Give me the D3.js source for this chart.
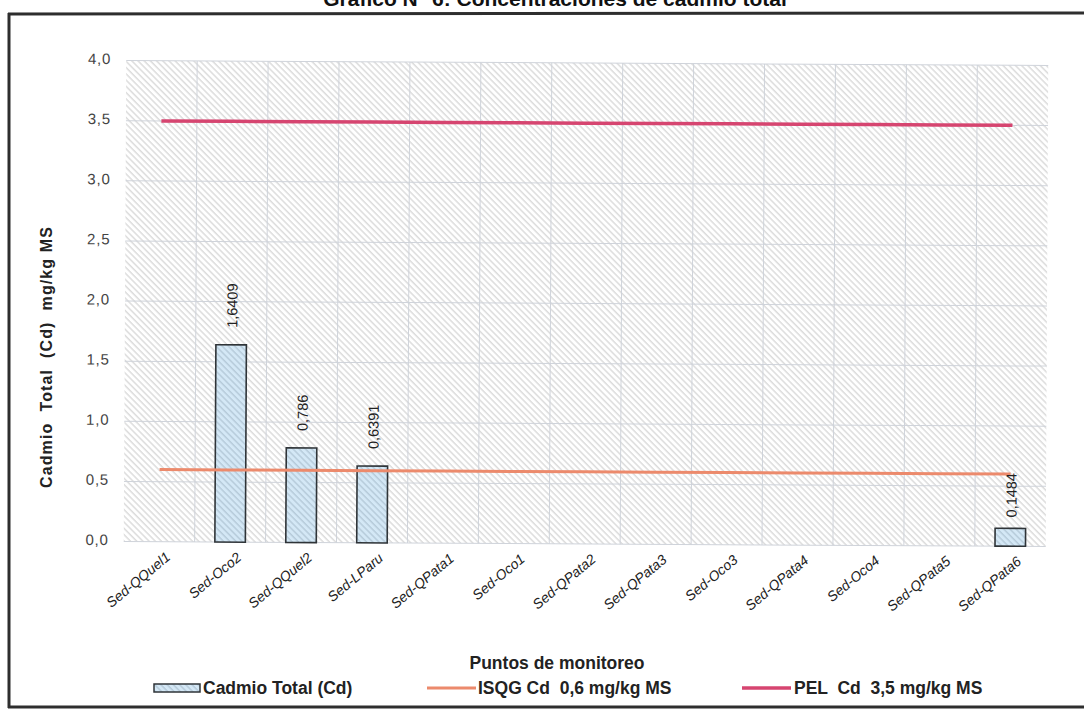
<!DOCTYPE html>
<html>
<head>
<meta charset="utf-8">
<script src="https://cdn.jsdelivr.net/npm/d3@7/dist/d3.min.js"></script>
<style>
  html, body { margin: 0; padding: 0; background: #ffffff; }
  svg { display: block; font-family: "Liberation Sans", Arial, sans-serif; }
</style>
</head>
<body>
<svg id="chart" width="1084" height="711"></svg>
<script>
// Sampling points (sediment stations)
const categories = ["Sed-QQuel1", "Sed-Oco2", "Sed-QQuel2", "Sed-LParu", "Sed-QPata1", "Sed-Oco1",
  "Sed-QPata2", "Sed-QPata3", "Sed-Oco3", "Sed-QPata4", "Sed-Oco4", "Sed-QPata5", "Sed-QPata6"];

// Total cadmium measured at each point (mg/kg MS); null = no bar
const cadmioValues = [null, 1.6409, 0.786, 0.6391, null, null, null, null, null, null, null, null, 0.1484];
const cadmioLabels = [null, "1,6409", "0,786", "0,6391", null, null, null, null, null, null, null, null, "0,1484"];

// Sediment quality guidelines for Cd
const isqgValues = [0.6, 0.6, 0.6, 0.6, 0.6, 0.6, 0.6, 0.6, 0.6, 0.6, 0.6, 0.6, 0.6];
const pelValues = [3.5, 3.5, 3.5, 3.5, 3.5, 3.5, 3.5, 3.5, 3.5, 3.5, 3.5, 3.5, 3.5];

const yTicks = [0, 0.5, 1.0, 1.5, 2.0, 2.5, 3.0, 3.5, 4.0];

const titleText = "Gráfico N° 6: Concentraciones de cadmio total";
const yTitle = "Cadmio  Total  (Cd)  mg/kg MS";
const xTitle = "Puntos de monitoreo";
const legendNames = ["Cadmio Total (Cd)", "ISQG Cd  0,6 mg/kg MS", "PEL  Cd  3,5 mg/kg MS"];

const svg = d3.select("#chart");
const defs = svg.append("defs");

// diagonal hatch for the plot background
const bgPat = defs.append("pattern")
  .attr("id", "bgHatch").attr("patternUnits", "userSpaceOnUse")
  .attr("width", 4.4).attr("height", 4.4)
  .attr("patternTransform", "rotate(45)");
bgPat.append("rect").attr("width", 4.4).attr("height", 4.4).attr("fill", "#ffffff");
bgPat.append("rect").attr("width", 4.4).attr("height", 1.5).attr("fill", "#dcdcdc");

// hatch for the bars (light blue with darker stripes)
const barPat = defs.append("pattern")
  .attr("id", "barHatch").attr("patternUnits", "userSpaceOnUse")
  .attr("width", 4.4).attr("height", 4.4)
  .attr("patternTransform", "rotate(45)");
barPat.append("rect").attr("width", 4.4).attr("height", 4.4).attr("fill", "#d4e8f6");
barPat.append("rect").attr("width", 4.4).attr("height", 1.5).attr("fill", "#b6cbda");

// Title (runs off the top of the page)
svg.append("text")
  .attr("x", 555).attr("y", 6)
  .attr("text-anchor", "middle")
  .attr("font-size", 21).attr("font-weight", "bold").attr("fill", "#111")
  .text(titleText);

// Outer frame
const frame = svg.append("g").attr("fill", "none").attr("stroke", "#2e2e2e").attr("stroke-width", 3);
frame.append("line").attr("x1", 8).attr("y1", 14).attr("x2", 1084).attr("y2", 13);
frame.append("line").attr("x1", 9).attr("y1", 13).attr("x2", 9).attr("y2", 708);
frame.append("line").attr("x1", 8).attr("y1", 707).attr("x2", 1084).attr("y2", 707);

const plot = { left: 125, right: 1047, top: 63, bottom: 544 };

const x = d3.scaleBand().domain(categories).range([plot.left, plot.right]);
const y = d3.scaleLinear().domain([0, 4]).range([plot.bottom, plot.top]);
const bw = x.bandwidth();
const barW = bw * 0.43;

const g = svg.append("g").attr("transform", "rotate(0.3, 586, 300)");

// plot background
g.append("rect")
  .attr("x", plot.left).attr("y", plot.top)
  .attr("width", plot.right - plot.left).attr("height", plot.bottom - plot.top)
  .attr("fill", "url(#bgHatch)");

// gridlines
g.append("g").selectAll("line.h").data(yTicks).join("line")
  .attr("x1", plot.left).attr("x2", plot.right)
  .attr("y1", d => y(d)).attr("y2", d => y(d))
  .attr("stroke", "#cfd3da").attr("stroke-width", 1);
g.append("g").selectAll("line.v").data(categories.slice(1)).join("line")
  .attr("x1", d => x(d)).attr("x2", d => x(d))
  .attr("y1", plot.top).attr("y2", plot.bottom)
  .attr("stroke", "#cfd3da").attr("stroke-width", 1);

// Y axis
const yAxis = g.append("g")
  .attr("transform", `translate(${plot.left},0)`)
  .call(d3.axisLeft(y).tickValues(yTicks).tickSize(0).tickPadding(15)
    .tickFormat(d => d.toFixed(1).replace(".", ",")));
yAxis.select(".domain").remove();
yAxis.selectAll("text").attr("font-size", 15).attr("fill", "#444")
  .attr("font-family", "'Liberation Sans', Arial, sans-serif")
  .attr("letter-spacing", 0.8).attr("dy", "0.2em");

// X axis with slanted labels
const xAxis = g.append("g")
  .attr("transform", `translate(0,${plot.bottom})`)
  .call(d3.axisBottom(x).tickSize(0).tickPadding(0));
xAxis.select(".domain").remove();
xAxis.selectAll("text")
  .attr("font-size", 14).attr("fill", "#222")
  .attr("font-style", "italic")
  .attr("font-family", "'Liberation Sans', Arial, sans-serif")
  .attr("text-anchor", "end")
  .attr("y", 0).attr("dy", "0.35em")
  .attr("transform", "translate(9,13) rotate(-40)");

// Bars
const barData = categories.map((c, i) => ({ c, v: cadmioValues[i], label: cadmioLabels[i] }))
  .filter(d => d.v !== null);
g.append("g").selectAll("rect").data(barData).join("rect")
  .attr("x", d => x(d.c) + (bw - barW) / 2)
  .attr("y", d => y(d.v))
  .attr("width", barW)
  .attr("height", d => y(0) - y(d.v))
  .attr("fill", "url(#barHatch)")
  .attr("stroke", "#2f3438").attr("stroke-width", 1.6);

// Guideline series
const line = d3.line()
  .x((d, i) => x(categories[i]) + bw / 2)
  .y(d => y(d));
g.append("path").datum(isqgValues).attr("d", line)
  .attr("fill", "none").attr("stroke", "#ec8a6c").attr("stroke-width", 3);
g.append("path").datum(pelValues).attr("d", line)
  .attr("fill", "none").attr("stroke", "#d64570").attr("stroke-width", 3.5);

// Value labels above bars
g.append("g").selectAll("text").data(barData).join("text")
  .attr("transform", d => `translate(${x(d.c) + bw / 2 + 6},${y(d.v) - (d.v < 0.3 ? 11 : 17)}) rotate(-90)`)
  .attr("text-anchor", "start")
  .attr("font-size", 14.5).attr("fill", "#222")
  .text(d => d.label);

// Axis titles
svg.append("text")
  .attr("transform", "translate(52,357) rotate(-90)")
  .attr("text-anchor", "middle")
  .attr("font-size", 16).attr("font-weight", "bold").attr("fill", "#222")
  .attr("letter-spacing", 1.1)
  .style("white-space", "pre")
  .text(yTitle);

svg.append("text")
  .attr("x", 557).attr("y", 669)
  .attr("text-anchor", "middle")
  .attr("font-size", 17.5).attr("font-weight", "bold").attr("fill", "#222")
  .text(xTitle);

// Legend
const leg = svg.append("g").attr("font-size", 17.5).attr("font-weight", "bold").attr("fill", "#222");
leg.append("rect").attr("x", 154).attr("y", 684).attr("width", 46).attr("height", 8)
  .attr("fill", "url(#barHatch)").attr("stroke", "#2f3438").attr("stroke-width", 1.5);
leg.append("text").attr("x", 203).attr("y", 694).style("white-space", "pre").text(legendNames[0]);
leg.append("line").attr("x1", 427).attr("x2", 476).attr("y1", 688).attr("y2", 688)
  .attr("stroke", "#ec8a6c").attr("stroke-width", 3);
leg.append("text").attr("x", 478).attr("y", 694).style("white-space", "pre").text(legendNames[1]);
leg.append("line").attr("x1", 742).attr("x2", 791).attr("y1", 688).attr("y2", 688)
  .attr("stroke", "#d64570").attr("stroke-width", 3.5);
leg.append("text").attr("x", 794).attr("y", 694).style("white-space", "pre").text(legendNames[2]);
</script>
</body>
</html>
